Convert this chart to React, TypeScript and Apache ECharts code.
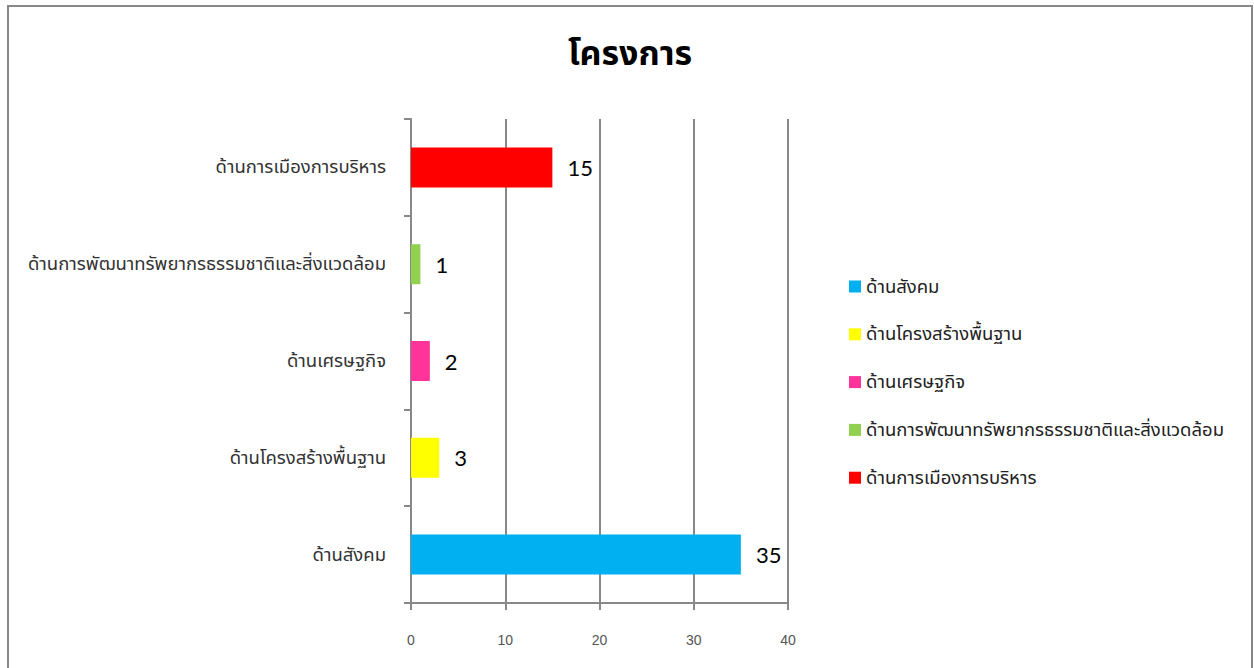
import React, { useEffect, useRef } from "react";
import * as echarts from "echarts";

const categories = [
  "ด้านสังคม",
  "ด้านโครงสร้างพื้นฐาน",
  "ด้านเศรษฐกิจ",
  "ด้านการพัฒนาทรัพยากรธรรมชาติและสิ่งแวดล้อม",
  "ด้านการเมืองการบริหาร",
];
const values = [35, 3, 2, 1, 15];
const colors = ["#00B0F0", "#FFFF00", "#FF3399", "#92D050", "#FF0000"];
const xTicks = { min: 0, max: 40, interval: 10 };
const title = "โครงการ";

const thaiFont = "'Noto Sans Thai', 'Noto Sans', 'DejaVu Sans', sans-serif";

export default function App() {
  const ref = useRef<HTMLDivElement>(null);
  useEffect(() => {
    if (!ref.current) return;
    const chart = echarts.init(ref.current, null, { renderer: "svg" });
    const series = categories.map((name, i) => ({
      name,
      type: "bar",
      stack: "all",
      barWidth: 40,
      itemStyle: { color: colors[i] },
      data: categories.map((_, j) => (j === i ? values[i] : "-")),
      label: {
        show: true,
        position: "right",
        distance: 15,
        color: "#000",
        fontSize: 22,
        fontFamily: "Lato, 'Open Sans', sans-serif",
      },
    }));
    chart.setOption({
      animation: false,
      backgroundColor: "#fff",
      title: {
        text: title,
        left: 625,
        textAlign: "center",
        top: 32,
        textStyle: {
          fontSize: 34,
          fontWeight: "bold",
          color: "#000",
          fontFamily: thaiFont,
        },
      },
      legend: {
        orient: "vertical",
        left: 844,
        top: 272,
        itemWidth: 12,
        itemHeight: 12,
        itemGap: 28.8,
        icon: "rect",
        data: categories,
        textStyle: { fontSize: 18.5, color: "#222", fontFamily: thaiFont },
      },
      grid: { left: 411, right: 466, top: 119, bottom: 65 },
      xAxis: {
        type: "value",
        min: xTicks.min,
        max: xTicks.max,
        interval: xTicks.interval,
        axisLine: { show: true, lineStyle: { color: "#888", width: 2 } },
        axisTick: { show: true, length: 7, lineStyle: { color: "#888", width: 2 } },
        splitLine: { show: true, lineStyle: { color: "#888", width: 2 } },
        axisLabel: { margin: 30, fontSize: 14, color: "#555", fontFamily: "'Liberation Sans', Arial, sans-serif" },
      },
      yAxis: {
        type: "category",
        data: categories,
        axisLine: { show: true, lineStyle: { color: "#888", width: 2 } },
        axisTick: { show: true, length: 7, lineStyle: { color: "#888", width: 2 } },
        axisLabel: { margin: 25, fontSize: 18.5, color: "#333", fontFamily: thaiFont },
      },
      graphic: [
        {
          type: "rect",
          shape: { x: 8, y: 6, width: 1244, height: 700 },
          style: { fill: "none", stroke: "#888", lineWidth: 2 },
          silent: true,
        },
      ],
      series,
    });
    return () => chart.dispose();
  }, []);
  return (
    <div
      ref={ref}
      style={{ position: "fixed", left: 0, top: 0, width: 1254, height: 668 }}
    />
  );
}
